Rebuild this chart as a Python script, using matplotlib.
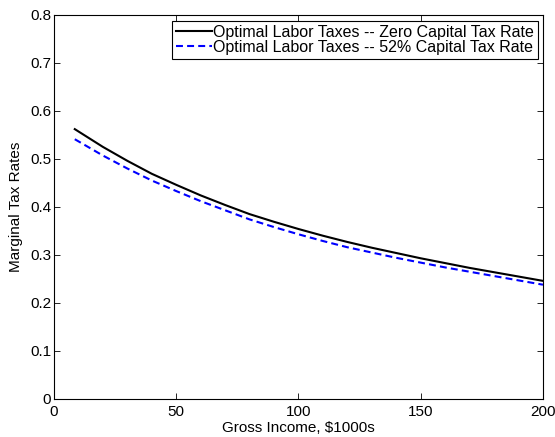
import numpy as np
import matplotlib
matplotlib.use('Agg')
import matplotlib.pyplot as plt

plt.rcParams['font.family'] = ['Liberation Sans', 'DejaVu Sans']
plt.rcParams['font.size'] = 11
plt.rcParams['lines.scale_dashes'] = False

# Gross income, $1000s
income = [8.5, 20, 30, 40, 50, 60, 70, 80, 90, 100, 110, 120, 130, 140, 150, 160, 170, 180, 190, 200]
# Optimal labor taxes, zero capital tax rate
tax_zero = [0.562, 0.525, 0.496, 0.469, 0.446, 0.424, 0.404, 0.385, 0.369, 0.354,
            0.340, 0.327, 0.315, 0.304, 0.293, 0.283, 0.273, 0.264, 0.255, 0.246]
# Optimal labor taxes, 52% capital tax rate
tax_52 = [0.541, 0.507, 0.480, 0.455, 0.433, 0.412, 0.393, 0.374, 0.358, 0.343,
          0.329, 0.316, 0.305, 0.294, 0.284, 0.274, 0.265, 0.256, 0.247, 0.238]

fig = plt.figure(figsize=(5.55, 4.37), dpi=100)
ax = fig.add_axes([0.0973, 0.087, 0.881, 0.879])

ax.plot(income, tax_zero, color='k', lw=1.5,
        label='Optimal Labor Taxes -- Zero Capital Tax Rate')
ax.plot(income, tax_52, color=(0, 0, 1), lw=1.5, dashes=(5, 3),
        label='Optimal Labor Taxes -- 52% Capital Tax Rate')

ax.set_xlim(0, 200)
ax.set_ylim(0, 0.8)
ax.set_xticks([0, 50, 100, 150, 200])
ax.set_yticks(np.arange(0, 0.81, 0.1))
ax.set_yticklabels(['0', '0.1', '0.2', '0.3', '0.4', '0.5', '0.6', '0.7', '0.8'])
ax.tick_params(direction='in', top=True, right=True, length=4, width=0.6)
ax.tick_params(axis='x', pad=4)
ax.tick_params(axis='y', pad=2)
for s in ax.spines.values():
    s.set_linewidth(0.8)

ax.set_xlabel(r'Gross Income, \$1000s', labelpad=2)
ax.set_ylabel('Marginal Tax Rates', labelpad=5)

leg = ax.legend(loc='upper right', bbox_to_anchor=(0.99, 0.985), borderaxespad=0,
                fancybox=False, framealpha=1, edgecolor='k', handlelength=2.2,
                handletextpad=0.1, borderpad=0.25, labelspacing=0.0, fontsize=11.5)
leg.get_frame().set_linewidth(0.8)

fig.savefig('out.png', dpi=100)
